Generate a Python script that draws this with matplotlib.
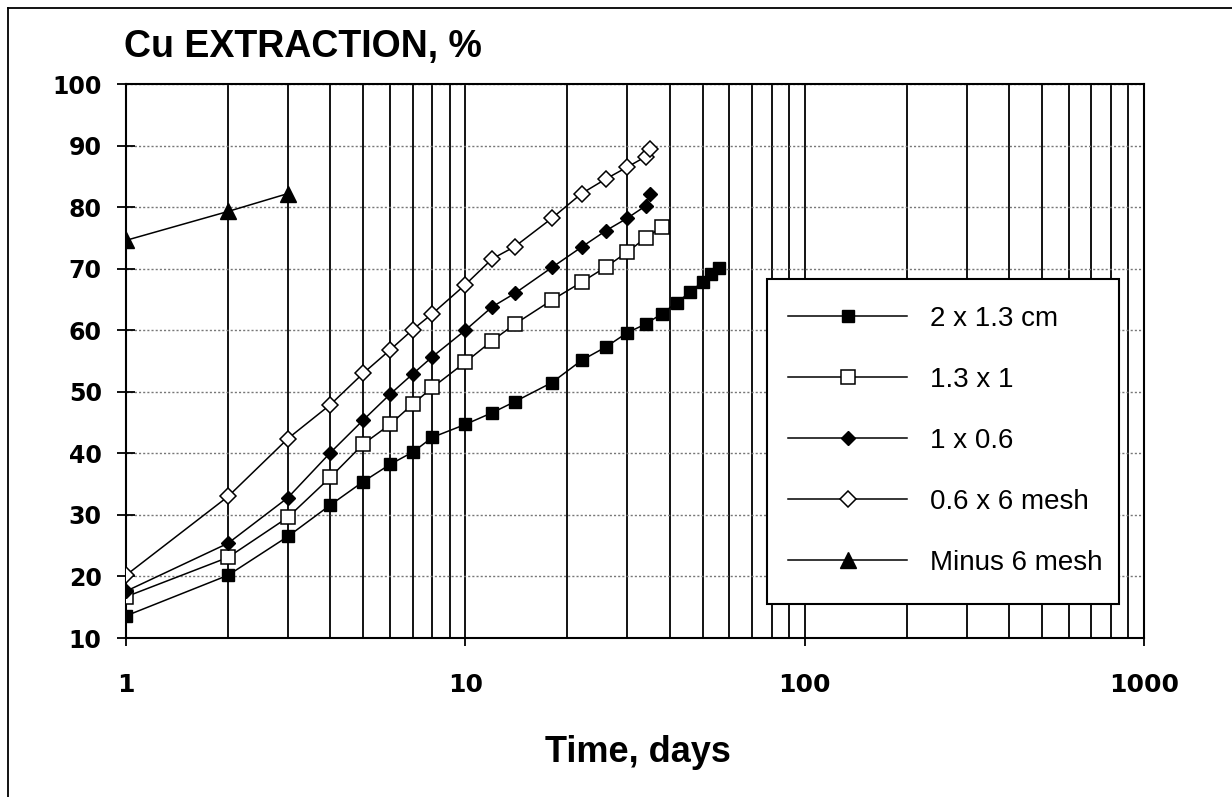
import matplotlib.pyplot as plt
from matplotlib.lines import Line2D
from matplotlib.patches import Rectangle
from matplotlib.ticker import LogLocator, FixedLocator, NullFormatter

# days and Cu extraction (%) per size fraction
t_a = [1, 2, 3, 4, 5, 6, 7, 8, 10, 12, 14, 18, 22, 26, 30, 34, 38, 42, 46, 50, 53, 56]
ext_a = [13.6, 20.2, 26.5, 31.6, 35.4, 38.2, 40.2, 42.6, 44.7, 46.6, 48.4, 51.5,
         55.1, 57.3, 59.6, 61.0, 62.7, 64.5, 66.2, 67.9, 69.1, 70.1]

t_b = [1, 2, 3, 4, 5, 6, 7, 8, 10, 12, 14, 18, 22, 26, 30, 34, 38]
ext_b = [16.7, 23.1, 29.6, 36.1, 41.5, 44.7, 48.0, 50.7, 54.8, 58.3, 61.0, 64.9,
         67.8, 70.3, 72.7, 75.0, 76.8]

t_c = [1, 2, 3, 4, 5, 6, 7, 8, 10, 12, 14, 18, 22, 26, 30, 34, 35]
ext_c = [17.6, 25.4, 32.8, 40.1, 45.4, 49.6, 52.9, 55.7, 60.0, 63.8, 66.0, 70.2,
         73.5, 76.2, 78.2, 80.2, 82.1]

t_d = [1, 2, 3, 4, 5, 6, 7, 8, 10, 12, 14, 18, 22, 26, 30, 34, 35]
ext_d = [20.2, 33.0, 42.4, 47.9, 53.0, 56.8, 60.1, 62.7, 67.4, 71.6, 73.6, 78.2,
         82.2, 84.6, 86.5, 88.2, 89.5]

t_e = [1, 2, 3]
ext_e = [74.6, 79.3, 82.2]

labels = ["2 x 1.3 cm", "1.3 x 1", "1 x 0.6", "0.6 x 6 mesh", "Minus 6 mesh"]
x_ticks = [1, 10, 100, 1000]
y_ticks = list(range(10, 101, 10))

W, H = 1232, 797
fig = plt.figure(figsize=(W / 100, H / 100), dpi=100)
ax = fig.add_axes([126 / W, (H - 638) / H, 1018 / W, 554 / H])

lw = 1.1
ax.plot(t_a, ext_a, '-s', color='black', lw=lw, ms=9, mfc='black', mec='black', label=labels[0], zorder=3)
ax.plot(t_b, ext_b, '-s', color='black', lw=lw, ms=9.5, mfc='white', mec='black', mew=1.1, label=labels[1], zorder=3)
ax.plot(t_c, ext_c, '-D', color='black', lw=lw, ms=7, mfc='black', mec='black', label=labels[2], zorder=3)
ax.plot(t_d, ext_d, '-D', color='black', lw=lw, ms=8, mfc='white', mec='black', mew=1.1, label=labels[3], zorder=3)
ax.plot(t_e, ext_e, '-^', color='black', lw=lw, ms=11, mfc='black', mec='black', label=labels[4], zorder=3)

ax.set_xscale('log')
ax.set_xlim(1, 1000)
ax.set_ylim(10, 100)
ax.xaxis.set_major_locator(FixedLocator(x_ticks))
ax.xaxis.set_minor_locator(LogLocator(base=10, subs=range(2, 10)))
ax.xaxis.set_minor_formatter(NullFormatter())
ax.set_xticklabels([str(v) for v in x_ticks])
ax.set_yticks(y_ticks)

# vertical grid: solid black, major and minor; horizontal: dotted grey
ax.grid(True, which='both', axis='x', color='black', lw=1.3, ls='-')
ax.grid(True, which='major', axis='y', color='#777777', lw=1.0, ls=(0, (1.5, 1.5)))
ax.set_axisbelow(True)

for s in ax.spines.values():
    s.set_linewidth(1.5)

ax.tick_params(axis='y', which='major', direction='inout', length=13, width=1.3,
               pad=11, labelsize=17)
ax.tick_params(axis='x', which='major', direction='out', length=6, width=1.3,
               pad=19, labelsize=18)
ax.tick_params(axis='x', which='minor', length=0)
for lab in ax.get_xticklabels() + ax.get_yticklabels():
    lab.set_fontfamily('DejaVu Sans')
    lab.set_fontweight('bold')

fig.text(124 / W, (H - 57) / H, "Cu EXTRACTION, %", fontsize=27, fontweight='bold',
         family='Liberation Sans', ha='left', va='baseline')
fig.text(638 / W, (H - 752) / H, "Time, days", fontsize=26, fontweight='bold',
         family='Liberation Sans', ha='center', va='center')

# legend box drawn separately so the entries can sit where they do in the original
box = Rectangle((767 / W, 1 - 604 / H), (1119 - 767) / W, (604 - 279) / H,
                transform=fig.transFigure, facecolor='white', edgecolor='black',
                lw=1.5, zorder=4)
ax.add_patch(box)
box.set_clip_on(False)

leg = ax.legend(loc='upper left', bbox_to_anchor=(788 / W, 1 - 306 / H),
                bbox_transform=fig.transFigure, frameon=False,
                prop={'family': 'Liberation Sans', 'size': 20},
                handlelength=4.3, handletextpad=0.8, labelspacing=1.26,
                borderpad=0, numpoints=1, borderaxespad=0)
leg.set_zorder(5)

# outer frame of the scanned figure (left and top edges visible)
fig.add_artist(Line2D([8 / W, 8 / W], [0, 1 - 8 / H], color='black', lw=1.3))
fig.add_artist(Line2D([8 / W, 1], [1 - 8 / H, 1 - 8 / H], color='black', lw=1.3))

fig.savefig('out.png', dpi=100)
